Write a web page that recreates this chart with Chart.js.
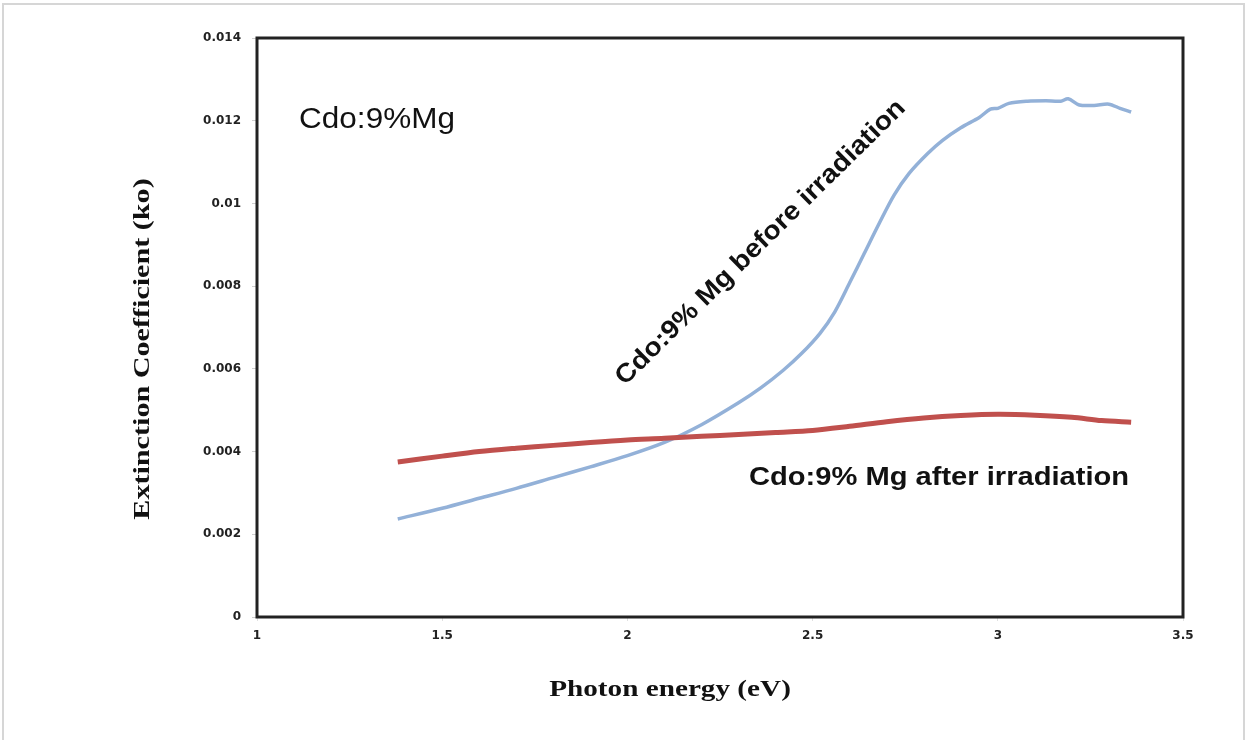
<!DOCTYPE html>
<html>
<head>
<meta charset="utf-8">
<script src="https://cdn.jsdelivr.net/npm/chart.js@4.4.1/dist/chart.umd.min.js"></script>
<style>
  html, body { margin: 0; padding: 0; background: #fff; }
  #wrap { position: relative; width: 1250px; height: 740px; }
  #frame { position: absolute; left: 2px; top: 3px; width: 1243px; height: 760px;
           border: 2px solid #d6d6d6; box-sizing: border-box; pointer-events: none; }
  canvas { position: absolute; left: 0; top: 0; }
</style>
</head>
<body>
<div id="wrap">
  <canvas id="c" width="1250" height="740"></canvas>
  <div id="frame"></div>
</div>
<script>
// Photon energy (eV) and extinction coefficient for the two samples
const energyBefore = [1.38, 1.50, 1.60, 1.70, 1.80, 1.90, 2.00, 2.10, 2.20, 2.30, 2.36, 2.42, 2.47, 2.52, 2.56,
                      2.60, 2.64, 2.68, 2.72, 2.76, 2.81, 2.85, 2.90, 2.95, 2.98, 3.00, 3.03, 3.08, 3.13, 3.17,
                      3.19, 3.22, 3.26, 3.30, 3.33, 3.36];
const kBefore = [0.00237, 0.00263, 0.00287, 0.00311, 0.00337, 0.00363, 0.00390, 0.00422, 0.00465, 0.00518,
                 0.00554, 0.00596, 0.00637, 0.00686, 0.00738, 0.00808, 0.00880, 0.00952, 0.01020, 0.01072,
                 0.01120, 0.01152, 0.01183, 0.01208, 0.01228, 0.01230, 0.01242, 0.01247, 0.01248, 0.01247,
                 0.01253, 0.01238, 0.01237, 0.01240, 0.01230, 0.01221];

const energyAfter = [1.38, 1.50, 1.60, 1.70, 1.80, 1.90, 2.00, 2.10, 2.20, 2.30, 2.40, 2.50, 2.60, 2.70,
                     2.80, 2.90, 3.00, 3.10, 3.20, 3.28, 3.36];
const kAfter = [0.00375, 0.00389, 0.00400, 0.00408, 0.00415, 0.00422, 0.00428, 0.00432, 0.00437, 0.00441,
                0.00446, 0.00451, 0.00461, 0.00472, 0.00481, 0.00487, 0.00490, 0.00488, 0.00483, 0.00475,
                0.00471];

const xTicks = [1, 1.5, 2, 2.5, 3, 3.5];
const yTicks = [0, 0.002, 0.004, 0.006, 0.008, 0.01, 0.012, 0.014];

const xTitle = 'Photon energy (eV)';
const yTitle = 'Extinction Coefficient (ko)';
const sampleLabel = 'Cdo:9%Mg';
const beforeLabel = 'Cdo:9% Mg before irradiation';
const afterLabel = 'Cdo:9% Mg after irradiation';

const toPoints = (xs, ys) => xs.map((x, i) => ({ x: x, y: ys[i] }));

// Draws text centred at (x, y), rotated by deg, widened along its baseline by sx
function drawText(ctx, text, font, x, y, deg, sx) {
  ctx.save();
  ctx.font = font;
  ctx.textAlign = 'center';
  ctx.textBaseline = 'middle';
  ctx.translate(x, y);
  ctx.rotate(deg * Math.PI / 180);
  ctx.scale(sx, 1);
  ctx.fillText(text, 0, 0);
  ctx.restore();
}

// Plot frame, axis titles and in-plot labels
const decorations = {
  id: 'decorations',
  afterDatasetsDraw(chart) {
    const { ctx, chartArea: a } = chart;
    ctx.save();
    ctx.strokeStyle = '#222';
    ctx.lineWidth = 3;
    ctx.strokeRect(a.left, a.top, a.right - a.left, a.bottom - a.top);
    ctx.fillStyle = '#111';

    const serif = 'bold 23px "Liberation Serif", serif';
    drawText(ctx, xTitle, serif, 670, 690, 0, 1.27);
    drawText(ctx, yTitle, serif, 143, 349, -90, 1.31);

    const xs = chart.scales.x, ys = chart.scales.y;
    drawText(ctx, sampleLabel, '30px "Liberation Sans", sans-serif',
             377, ys.getPixelForValue(0.01203), 0, 1.05);
    drawText(ctx, afterLabel, 'bold 26px "Liberation Sans", sans-serif',
             939, ys.getPixelForValue(0.00337), 0, 1.12);
    drawText(ctx, beforeLabel, 'bold 26px "Liberation Sans", sans-serif',
             xs.getPixelForValue(2.36), ys.getPixelForValue(0.00905), -44.5, 1.09);
    ctx.restore();
  }
};

new Chart(document.getElementById('c'), {
  type: 'scatter',
  data: {
    datasets: [
      { label: afterLabel, data: toPoints(energyAfter, kAfter), showLine: true,
        borderColor: '#c0504d', borderWidth: 5, pointRadius: 0, tension: 0.3, fill: false },
      { label: beforeLabel, data: toPoints(energyBefore, kBefore), showLine: true,
        borderColor: '#93b1d8', borderWidth: 3.5, pointRadius: 0, tension: 0.3, fill: false }
    ]
  },
  options: {
    responsive: false,
    animation: false,
    layout: { padding: { left: 0, top: 38, right: 67, bottom: 0 } },
    plugins: { legend: { display: false }, tooltip: { enabled: false } },
    scales: {
      x: {
        type: 'linear', min: 1, max: 3.5,
        afterFit: s => { s.height = 123; },
        afterBuildTicks: s => { s.ticks = xTicks.map(v => ({ value: v })); },
        border: { display: false },
        grid: { drawOnChartArea: false, drawTicks: true, tickLength: 4, color: '#e0e0e0' },
        ticks: { color: '#222', padding: 8, maxRotation: 0,
                 font: { family: '"DejaVu Sans", sans-serif', size: 12, weight: 'bold' },
                 callback: v => String(v) }
      },
      y: {
        type: 'linear', min: 0, max: 0.014,
        afterFit: s => { s.width = 257; },
        afterBuildTicks: s => { s.ticks = yTicks.map(v => ({ value: v })); },
        border: { display: false },
        grid: { drawOnChartArea: false, drawTicks: true, tickLength: 5, color: '#cfcfcf' },
        ticks: { color: '#222', padding: 11,
                 font: { family: '"DejaVu Sans", sans-serif', size: 12, weight: 'bold' },
                 callback: v => String(+v.toFixed(3)) }
      }
    }
  },
  plugins: [decorations]
});
</script>
</body>
</html>
